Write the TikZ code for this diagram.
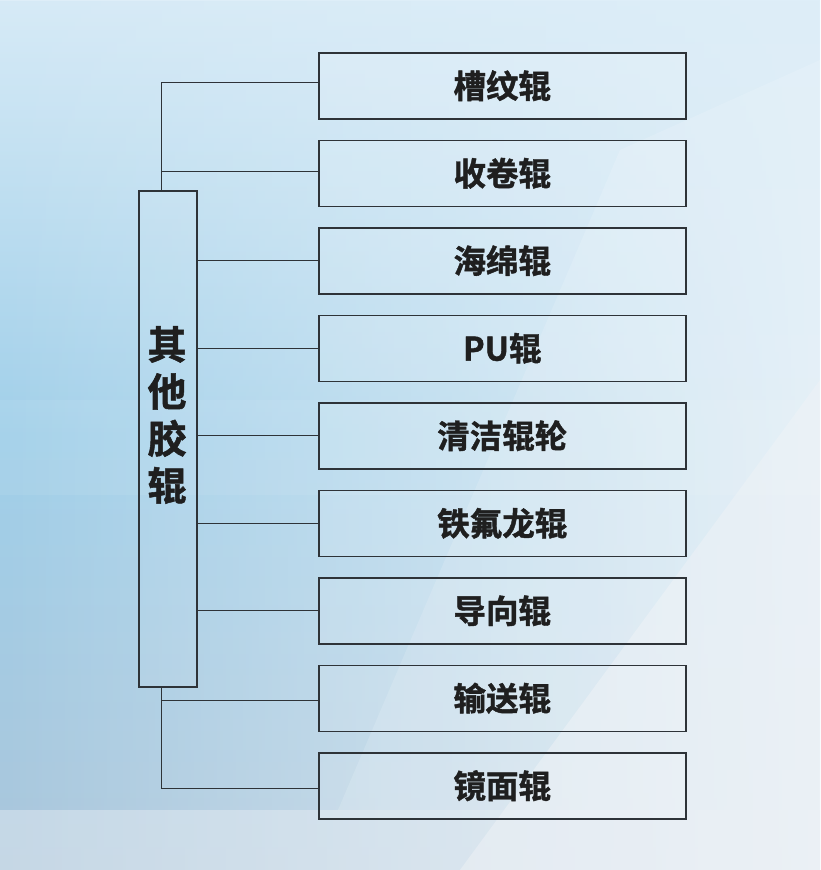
\documentclass[tikz,border=0pt]{standalone}
\usepackage{fontspec}
\newfontfamily\cjk{Noto Sans CJK SC Bold}[FakeBold=1.3]
\usetikzlibrary{fadings}
\definecolor{linec}{HTML}{2E3338}
\definecolor{bgtop}{HTML}{D6EAF6}
\definecolor{bgleft}{HTML}{A0CFE9}
\definecolor{bgbr}{HTML}{EFF2F6}
\definecolor{bgbl}{HTML}{AAC6DB}
\definecolor{bgright}{HTML}{DDEBF4}
\tikzset{
  item/.style={draw=linec, line width=1.5pt, fill=white, fill opacity=0.12, text opacity=1,
    minimum width=367pt, minimum height=66pt, inner sep=0pt, anchor=north west,
    font=\cjk\fontsize{32.5}{34}\selectfont, text=black!88},
  mainbox/.style={draw=linec, line width=1.5pt, fill=white, fill opacity=0.06,
    minimum width=58pt, minimum height=496pt, inner sep=0pt, anchor=north west},
  conn/.style={draw=linec, line width=1.3pt}
}
\begin{document}
\begin{tikzpicture}[x=1pt,y=-1pt]
\useasboundingbox (0,0) rectangle (820,870);
% background
\shade[top color=bgtop!80!white, bottom color=bgright!60!bgbr] (0,0) rectangle (820,870);
\shade[top color=bgtop, bottom color=bgbl, middle color=bgleft, path fading=east] (0,0) rectangle (820,870);
\fill[white, opacity=0.14] (820,60) -- (620,150) -- (338,810) -- (820,810) -- cycle;
\fill[bgbr, opacity=0.5] (820,380) -- (820,870) -- (460,870) -- cycle;
\fill[bgbr, opacity=0.4] (0,810) rectangle (820,870);
\fill[white, opacity=0.07] (0,400) rectangle (820,495);
% main box
\node[mainbox] (m) at (138,190) {};
\node[font=\cjk\fontsize{39}{47}\selectfont, text=black!88, align=center] (mt) at (167,415) {其\\他\\胶\\辊};
% items
\node[item] (a1) at (318,52) {槽纹辊};
\node[item] (a2) at (318,139.5) {收卷辊};
\node[item] (a3) at (318,227) {海绵辊};
\node[item] (a4) at (318,314.5) {PU辊};
\node[item] (a5) at (318,402) {清洁辊轮};
\node[item] (a6) at (318,489.5) {铁氟龙辊};
\node[item] (a7) at (318,577) {导向辊};
\node[item] (a8) at (318,664.5) {输送辊};
\node[item] (a9) at (318,752) {镜面辊};
% connectors
\coordinate (top) at ([xshift=-6pt]m.north);
\coordinate (bot) at ([xshift=-6pt]m.south);
\draw[conn] (top) |- ([yshift=3pt]a1.west);
\draw[conn] (top) |- ([yshift=2pt]a2.west);
\draw[conn] (bot) |- ([yshift=-2pt]a8.west);
\draw[conn] (bot) |- ([yshift=-3pt]a9.west);
\foreach \i in {3,...,7} {
  \draw[conn] (a\i.west) -- (a\i.west -| m.east);
}
\end{tikzpicture}
\end{document}
